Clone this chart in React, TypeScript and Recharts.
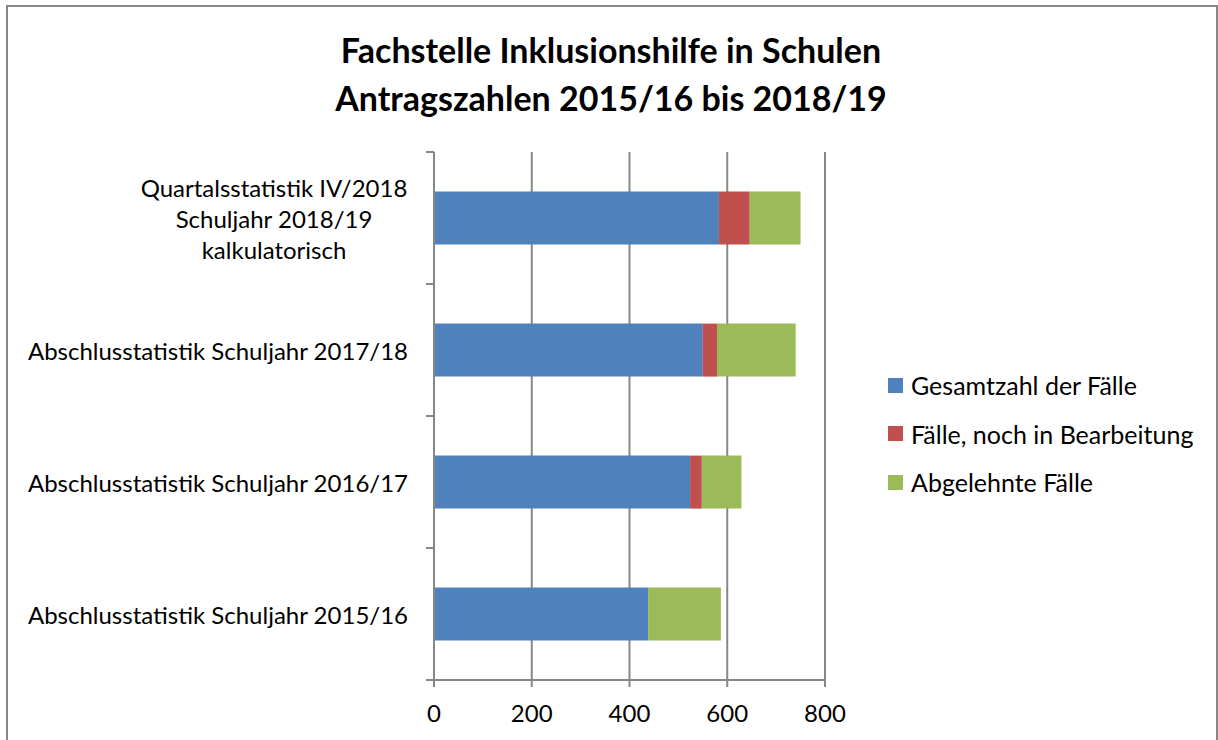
import React from "react";
import { BarChart, Bar, XAxis, YAxis, CartesianGrid } from "recharts";

const categories = [
  "Quartalsstatistik IV/2018\nSchuljahr 2018/19\nkalkulatorisch",
  "Abschlusstatistik Schuljahr 2017/18",
  "Abschlusstatistik Schuljahr 2016/17",
  "Abschlusstatistik Schuljahr 2015/16",
];
const gesamtzahl = [583, 550, 524, 438];
const inBearbeitung = [63, 29, 24, 0];
const abgelehnt = [104, 161, 81, 149];
const xTicks = [0, 200, 400, 600, 800];
const seriesNames = [
  "Gesamtzahl der Fälle",
  "Fälle, noch in Bearbeitung",
  "Abgelehnte Fälle",
];
const seriesColors = ["#4F81BD", "#C0504D", "#9BBB59"];

const FONT = "Lato, 'Open Sans', sans-serif";
const GRAY = "#878787";
const PLOT_LEFT = 434;
const PLOT_TOP = 152;
const PLOT_BOTTOM = 680;
const BAND = (PLOT_BOTTOM - PLOT_TOP) / categories.length;

const data = categories.map((name, i) => ({
  name,
  gesamt: gesamtzahl[i],
  bearbeitung: inBearbeitung[i],
  abgelehnt: abgelehnt[i],
}));

const YTick = (props: any) => {
  const { y, payload, index } = props;
  const lines = String(payload.value).split("\n");
  const lh = 31;
  const multi = lines.length > 1;
  const tx = multi ? PLOT_LEFT - 26 - 134 : PLOT_LEFT - 26;
  const startY = y - ((lines.length - 1) * lh) / 2;
  return (
    <g>
      <line x1={PLOT_LEFT - 8} x2={PLOT_LEFT} y1={y - BAND / 2} y2={y - BAND / 2} stroke={GRAY} strokeWidth={2} />
      {index === categories.length - 1 && (
        <line x1={PLOT_LEFT - 8} x2={PLOT_LEFT} y1={y + BAND / 2} y2={y + BAND / 2} stroke={GRAY} strokeWidth={2} />
      )}
      <text
        x={tx}
        y={startY}
        textAnchor={multi ? "middle" : "end"}
        dominantBaseline="central"
        fill="#000"
        fontSize={24}
        fontFamily={FONT}
      >
        {lines.map((l, i) => (
          <tspan key={i} x={tx} dy={i === 0 ? 0 : lh}>
            {l}
          </tspan>
        ))}
      </text>
    </g>
  );
};

export default function App() {
  return (
    <div
      style={{
        position: "absolute",
        left: 0,
        top: 0,
        width: 1218,
        height: 740,
        background: "#fff",
        overflow: "hidden",
        fontFamily: FONT,
      }}
    >
      <div
        style={{
          position: "absolute",
          left: 6,
          top: 5,
          width: 1208,
          height: 760,
          border: `2px solid ${GRAY}`,
        }}
      />
      <div
        style={{
          position: "absolute",
          left: 0,
          width: 1222,
          top: 26,
          textAlign: "center",
          fontWeight: 700,
          fontSize: 34,
          lineHeight: "48px",
          color: "#000",
        }}
      >
        Fachstelle Inklusionshilfe in Schulen
        <br />
        Antragszahlen 2015/16 bis 2018/19
      </div>
      <div style={{ position: "absolute", left: 0, top: 0 }}>
        <BarChart
          width={1218}
          height={740}
          data={data}
          layout="vertical"
          barCategoryGap="30%"
          margin={{ top: PLOT_TOP, right: 393, bottom: 740 - PLOT_BOTTOM - 30, left: 8 }}
        >
          <CartesianGrid horizontal={false} stroke={GRAY} strokeWidth={2} />
          <XAxis
            type="number"
            domain={[0, 800]}
            ticks={xTicks}
            height={30}
            axisLine={{ stroke: GRAY, strokeWidth: 2 }}
            tickLine={{ stroke: GRAY, strokeWidth: 2 }}
            tickSize={7}
            tickMargin={18}
            tick={{ fill: "#000", fontSize: 24, fontFamily: FONT }}
          />
          <YAxis
            type="category"
            dataKey="name"
            width={426}
            axisLine={{ stroke: GRAY, strokeWidth: 2 }}
            tickLine={false}
            tick={<YTick />}
            interval={0}
          />
          <Bar dataKey="gesamt" name={seriesNames[0]} stackId="a" fill={seriesColors[0]} isAnimationActive={false} />
          <Bar dataKey="bearbeitung" name={seriesNames[1]} stackId="a" fill={seriesColors[1]} isAnimationActive={false} />
          <Bar dataKey="abgelehnt" name={seriesNames[2]} stackId="a" fill={seriesColors[2]} isAnimationActive={false} />
        </BarChart>
      </div>
      <div style={{ position: "absolute", left: 888, top: 361 }}>
        {seriesNames.map((n, i) => (
          <div
            key={n}
            style={{ display: "flex", alignItems: "center", height: 48.5, fontSize: 25, color: "#000" }}
          >
            <span
              style={{ width: 15, height: 15, background: seriesColors[i], marginRight: 8, display: "inline-block" }}
            />
            {n}
          </div>
        ))}
      </div>
    </div>
  );
}
